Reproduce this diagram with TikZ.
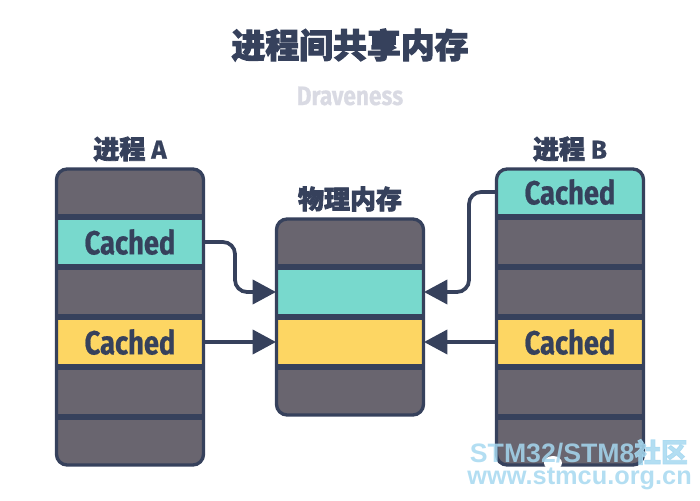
\documentclass[tikz,border=0pt]{standalone}
\usepackage{fontspec}
\setmainfont{Fira Sans}
\setsansfont{Liberation Sans}
\newfontfamily\cjk[BoldFeatures={FakeBold=3}]{Noto Sans CJK SC}
\usetikzlibrary{arrows.meta}
\definecolor{inkblue}{HTML}{36415C}
\definecolor{cellgrey}{HTML}{69656F}
\definecolor{cellteal}{HTML}{78D9CD}
\definecolor{cellyellow}{HTML}{FDD663}
\definecolor{markblue}{HTML}{A6D8F0}
\definecolor{fadegrey}{HTML}{D9DAE3}
\tikzset{
  cell/.style={outer sep=0pt, minimum width=111pt, minimum height=37.5pt, inner sep=0pt, fill=cellgrey, font=\fontsize{25pt}{25pt}\bfseries\addfontfeature{FakeStretch=0.82,FakeBold=0.6}, text=inkblue},
  outline/.style={draw=inkblue, line width=2.5pt, rounded corners=8pt, minimum width=110.25pt, inner sep=0pt, outer sep=0pt},
  heading/.style={text=inkblue, font=\fontsize{19.5pt}{19.5pt}\cjk\bfseries, inner sep=0pt},
  rule/.style={draw=inkblue, line width=4.5pt},
  link/.style={draw=inkblue, line width=2.8pt, rounded corners=9pt, -{Triangle[length=17.5pt,width=18pt]}},
}
\begin{document}
\begin{tikzpicture}[x=0.75pt,y=-0.75pt]
	\useasboundingbox (0,0) rectangle (700,500);
	% Заголовки
	\node[heading, font=\fontsize{25.4pt}{25.4pt}\cjk\bfseries] (title) at (350,45) {进程间共享内存};
	\node[inner sep=0pt, text=fadegrey, font=\fontsize{20pt}{20pt}\bfseries\addfontfeature{FakeStretch=0.85,FakeBold=0.6}] (author) at (350,96) {Draveness};
	\node[heading] (procA) at (130,149) {进程 {\rmfamily\addfontfeature{FakeBold=0.6}A}};
	\node[heading] (memory) at (350,199) {物理内存};
	\node[heading] (procB) at (570,149) {进程 {\rmfamily\addfontfeature{FakeBold=0.6}B}};
	% Левый столбец
	\begin{scope}
		\clip[rounded corners=8pt] (56.5,169) rectangle (203.5,465);
		\node[cell] (a1) at (130,192) {};
		\node[cell, fill=cellteal] (a2) at (130,242) {Cached};
		\node[cell] (a3) at (130,292) {};
		\node[cell, fill=cellyellow] (a4) at (130,342) {Cached};
		\node[cell] (a5) at (130,392) {};
		\node[cell] (a6) at (130,442) {};
		\foreach \cellname in {a1,a2,a3,a4,a5}
			\draw[rule] (\cellname.south west) -- (\cellname.south east);
	\end{scope}
	\node[outline, minimum height=222pt] (boxA) at (130,317) {};
	% Средний столбец
	\begin{scope}
		\clip[rounded corners=8pt] (276.5,219) rectangle (423.5,415);
		\node[cell] (m1) at (350,242) {};
		\node[cell, fill=cellteal] (m2) at (350,292) {};
		\node[cell, fill=cellyellow] (m3) at (350,342) {};
		\node[cell] (m4) at (350,392) {};
		\foreach \cellname in {m1,m2,m3}
			\draw[rule] (\cellname.south west) -- (\cellname.south east);
	\end{scope}
	\node[outline, minimum height=147pt] (boxM) at (350,317) {};
	% Правый столбец
	\begin{scope}
		\clip[rounded corners=8pt] (496.5,169) rectangle (643.5,465);
		\node[cell, fill=cellteal] (b1) at (570,192) {Cached};
		\node[cell] (b2) at (570,242) {};
		\node[cell] (b3) at (570,292) {};
		\node[cell, fill=cellyellow] (b4) at (570,342) {Cached};
		\node[cell] (b5) at (570,392) {};
		\node[cell] (b6) at (570,442) {};
		\foreach \cellname in {b1,b2,b3,b4,b5}
			\draw[rule] (\cellname.south west) -- (\cellname.south east);
	\end{scope}
	\node[outline, minimum height=222pt] (boxB) at (570,317) {};
	% Стрелки
	\draw[link] (a2.east) -- ++(31,0) |- (m2.west);
	\draw[link] (a4.east) -- (m3.west);
	\draw[link] (b1.west) -- ++(-27,0) |- (m2.east);
	\draw[link] (b4.west) -- (m3.east);
	% Водяной знак
	\fill[white] (553,463) ellipse (9 and 7);
	\node[inner sep=0pt, anchor=east, text=markblue, opacity=0.85, font=\fontsize{20pt}{20pt}\sffamily\bfseries] (mark) at (688,452) {STM32/STM8{\cjk 社区}};
	\node[inner sep=0pt, anchor=east, text=markblue, opacity=0.85, font=\fontsize{19pt}{19pt}\sffamily\bfseries] (site) at (692,479) {www.stmcu.org.cn};
\end{tikzpicture}
\end{document}
